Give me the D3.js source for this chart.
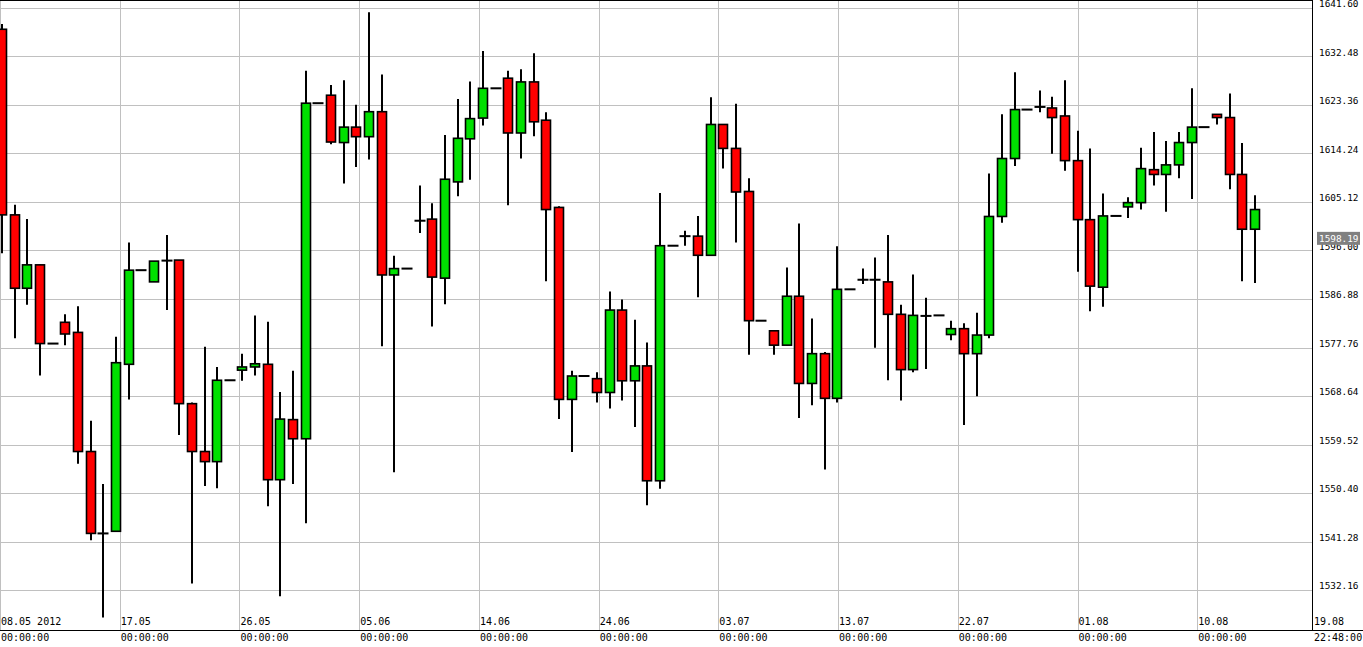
<!DOCTYPE html>
<html><head><meta charset="utf-8">
<script src="https://cdn.jsdelivr.net/npm/d3@7"></script>
<style>body{margin:0;background:#fff}text{font-family:"DejaVu Sans Mono",monospace;font-size:10px}.yl{font-size:9.4px}</style>
</head><body><svg id="c" width="1363" height="647"></svg>
<script>
const opens  = [1637.6,1602.7,1588.9,1593.3,1578.5,1582.5,1580.6,1558.2,1542.8,1543.2,1574.6,1592.3,1590.1,1594.1,1594.2,1567.2,1558.2,1556.3,1571.6,1573.5,1574.1,1574.6,1552.9,1564.2,1560.6,1623.7,1625.2,1616.3,1619.2,1617.4,1622.1,1591.4,1592.6,1601.6,1601.9,1590.8,1608.9,1617.0,1620.9,1626.5,1628.4,1618.1,1627.7,1620.5,1604.1,1568.0,1572.4,1571.9,1569.3,1584.8,1571.5,1574.3,1552.7,1596.9,1598.7,1598.7,1595.1,1619.7,1615.2,1607.1,1582.8,1580.9,1578.2,1587.4,1571.0,1576.6,1568.2,1588.7,1590.5,1590.5,1590.1,1584.0,1573.6,1583.7,1583.8,1580.2,1581.3,1576.6,1580.1,1602.4,1613.3,1622.5,1623.0,1622.8,1621.3,1612.9,1601.8,1589.1,1602.5,1604.2,1605.0,1611.2,1610.3,1612.1,1616.3,1619.2,1621.6,1621.0,1610.3,1600.0];
const highs  = [1638.6,1604.6,1601.9,1593.3,1578.5,1584.0,1585.5,1564.0,1552.1,1579.8,1597.5,1592.3,1594.0,1598.9,1594.2,1567.4,1577.9,1574.1,1571.6,1576.6,1583.8,1582.6,1569.4,1573.4,1629.8,1623.7,1627.1,1628.0,1623.4,1640.8,1629.1,1595.0,1592.6,1608.2,1604.9,1617.7,1624.5,1627.8,1633.5,1626.5,1629.8,1630.1,1633.1,1622.0,1604.3,1573.4,1572.4,1573.1,1588.3,1586.8,1583.0,1578.7,1606.8,1596.9,1599.7,1602.5,1624.8,1619.7,1623.6,1609.6,1582.8,1580.9,1592.8,1601.1,1583.2,1576.9,1596.8,1588.7,1592.6,1594.7,1598.9,1585.8,1591.5,1587.1,1583.8,1582.8,1582.3,1584.3,1610.5,1621.6,1629.5,1622.5,1626.1,1624.9,1628.0,1618.5,1615.2,1606.7,1602.5,1606.0,1615.3,1618.3,1616.6,1618.3,1626.5,1619.2,1621.6,1625.5,1616.2,1606.4];
const lows   = [1595.5,1579.5,1585.8,1572.5,1578.5,1578.2,1555.9,1541.5,1527.0,1543.2,1568.0,1592.3,1590.1,1584.8,1561.3,1533.4,1551.7,1551.3,1571.6,1571.5,1572.5,1547.9,1531.0,1552.1,1544.7,1623.7,1616.0,1608.6,1611.7,1613.1,1578.0,1554.3,1592.6,1599.3,1581.7,1585.9,1606.2,1609.3,1619.5,1626.5,1604.5,1613.3,1617.5,1590.2,1564.3,1558.1,1572.4,1567.4,1566.3,1567.8,1562.8,1548.1,1551.2,1596.9,1596.9,1587.2,1595.1,1611.4,1597.5,1576.4,1582.8,1576.4,1578.2,1564.5,1566.9,1554.8,1567.4,1588.7,1589.7,1577.7,1571.6,1567.8,1573.1,1573.7,1583.8,1579.1,1563.2,1568.6,1579.5,1601.2,1611.9,1622.5,1622.0,1614.2,1611.0,1592.0,1584.6,1585.4,1602.5,1602.1,1603.7,1608.2,1603.3,1609.6,1605.7,1619.2,1619.7,1607.5,1590.2,1589.9];
const closes = [1602.7,1588.9,1593.3,1578.5,1578.5,1580.3,1558.2,1542.8,1542.8,1574.9,1592.3,1592.3,1594.0,1594.1,1567.2,1558.2,1556.3,1571.6,1571.6,1574.1,1574.7,1552.9,1564.3,1560.6,1623.7,1623.7,1616.4,1619.2,1617.4,1622.1,1591.4,1592.6,1592.6,1601.6,1591.0,1609.4,1617.1,1620.8,1626.5,1626.5,1618.1,1627.7,1620.2,1603.7,1568.0,1572.4,1572.4,1569.3,1584.8,1571.5,1574.3,1552.7,1596.9,1596.9,1598.7,1595.1,1619.7,1615.2,1607.0,1582.8,1582.8,1578.2,1587.4,1571.0,1576.6,1568.2,1588.7,1588.7,1590.5,1590.5,1584.0,1573.6,1583.8,1583.7,1583.8,1581.3,1576.6,1580.1,1602.4,1613.3,1622.5,1622.5,1623.0,1621.0,1612.9,1601.8,1589.3,1602.5,1602.5,1605.0,1611.4,1610.3,1612.1,1616.3,1619.2,1619.2,1621.0,1610.3,1600.0,1603.7];
const dateLabels = ["08.05 2012","17.05","26.05","05.06","14.06","24.06","03.07","13.07","22.07","01.08","10.08","19.08"];
const timeLabels = ["00:00:00","00:00:00","00:00:00","00:00:00","00:00:00","00:00:00","00:00:00","00:00:00","00:00:00","00:00:00","00:00:00","22:48:00"];
const yTicks = [1641.60,1632.48,1623.36,1614.24,1605.12,1596.00,1586.88,1577.76,1568.64,1559.52,1550.40,1541.28,1532.16];
const lastPrice = 1598.19;

const W=1312, B=630;
const svg=d3.select("#c");
const y=d3.scaleLinear().domain([1532.16,1641.60]).range([590,8]);
const x=d3.scaleLinear().domain([-0.16,103.9]).range([0,1317]);
const xt=d3.scaleLinear().domain([0,11]).range([0,1317]);

const g=svg.append("g");
g.selectAll(".hg").data(yTicks).join("line").attr("x1",0).attr("x2",W)
 .attr("y1",d=>Math.round(y(d))+0.5).attr("y2",d=>Math.round(y(d))+0.5).attr("stroke","#c0c0c0");
g.selectAll(".vg").data(dateLabels.slice(0,11)).join("line")
 .attr("x1",(d,i)=>Math.round(xt(i))+0.5).attr("x2",(d,i)=>Math.round(xt(i))+0.5)
 .attr("y1",0).attr("y2",B).attr("stroke","#c0c0c0");

const idx=d3.range(opens.length);
const c=svg.append("g");
c.selectAll(".w").data(idx).join("line")
 .attr("x1",i=>Math.round(x(i))).attr("x2",i=>Math.round(x(i)))
 .attr("y1",i=>y(highs[i])).attr("y2",i=>y(lows[i])).attr("stroke","#000").attr("stroke-width",2);
c.selectAll(".b").data(idx).join("rect")
 .attr("x",i=>Math.round(x(i))-4.5).attr("width",9)
 .attr("y",i=>y(Math.max(opens[i],closes[i])))
 .attr("height",i=>Math.max(0.01,Math.abs(y(opens[i])-y(closes[i]))))
 .attr("fill",i=>closes[i]>opens[i]?"#00e000":"#ff0000")
 .attr("stroke","#000").attr("stroke-width",i=>opens[i]===closes[i]?2:1.6);

svg.append("line").attr("x1",0).attr("x2",W).attr("y1",0.5).attr("y2",0.5).attr("stroke","#000");
svg.append("line").attr("x1",W+0.5).attr("x2",W+0.5).attr("y1",0).attr("y2",B).attr("stroke","#000");
svg.append("line").attr("x1",0).attr("x2",1363).attr("y1",B+0.5).attr("y2",B+0.5).attr("stroke","#000");

svg.selectAll(".yl").data(yTicks).join("text").attr("class","yl").attr("x",W+7).attr("y",d=>y(d)-1).text(d=>d.toFixed(2)).attr("fill","#000");
const ly=y(lastPrice);
svg.append("rect").attr("x",W+5).attr("y",ly-7).attr("width",43).attr("height",13).attr("fill","#808080");
svg.append("text").attr("class","yl").attr("x",W+7).attr("y",ly+3).attr("fill","#fff").text(lastPrice.toFixed(2));

svg.selectAll(".dl").data(dateLabels).join("text").attr("x",(d,i)=>Math.min(xt(i)+1,W+2)).attr("y",625).text(d=>d);
svg.selectAll(".tl").data(timeLabels).join("text").attr("x",(d,i)=>Math.min(xt(i)+1,W+2)).attr("y",641).text(d=>d);
</script></body></html>
